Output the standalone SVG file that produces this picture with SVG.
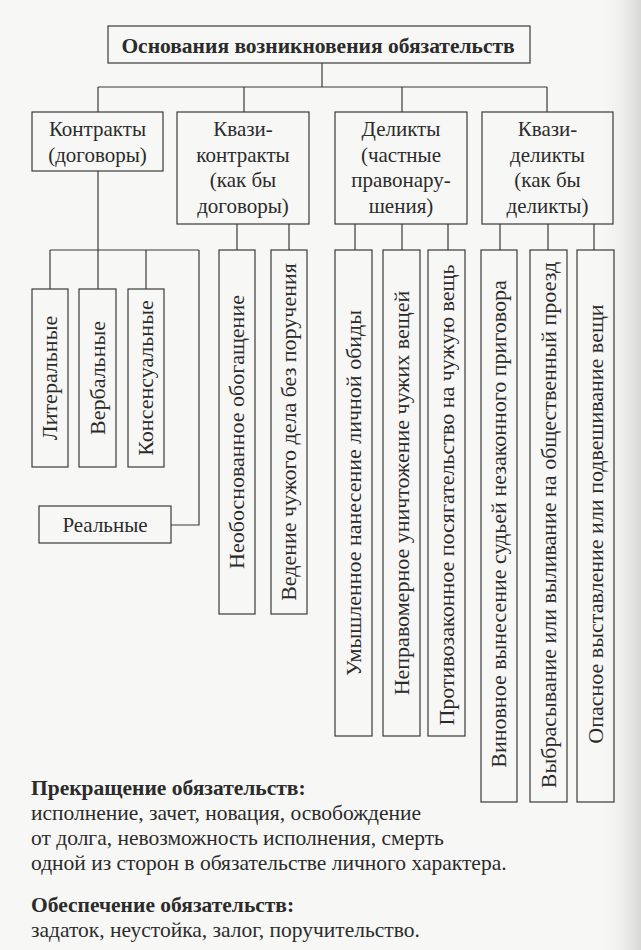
<svg xmlns="http://www.w3.org/2000/svg" width="641" height="950" viewBox="0 0 641 950">
<defs>
<linearGradient id="edge" x1="0" y1="0" x2="1" y2="0">
<stop offset="0" stop-color="#f4f4f2" stop-opacity="0"/>
<stop offset="1" stop-color="#d8d8d6"/>
</linearGradient>
<style>
.bx{fill:none;stroke:#3a3a3a;stroke-width:1.2}
.ln{fill:none;stroke:#3a3a3a;stroke-width:1.2}
.t,.v,.h,.p{font-family:'Liberation Serif','DejaVu Serif',serif;fill:#2b2b2b}
.t{font-size:21px;text-anchor:middle}
.v{font-size:22px;text-anchor:middle}
.h{font-size:21.5px;font-weight:bold}
.p{font-size:21.5px}
</style>
</defs>
<rect x="0" y="0" width="641" height="950" fill="#f7f7f5"/>
<rect x="600" y="0" width="41" height="950" fill="url(#edge)"/>

<g id="connectors" class="ln">
<path d="M322 63V87M98 87H547M98 87V112M244 87V112M402 87V112M547 87V112"/>
<path d="M98 171V250M50 250H199M50 250V289M98 250V289M146 250V289M199 250V525H171"/>
<path d="M237 224V250M289 224V250"/>
<path d="M355 224V250M402 224V250M448 224V250"/>
<path d="M500 224V250M548 224V250M594 224V250"/>
</g>

<g id="title">
<rect class="bx" x="108" y="26" width="422" height="37"/>
<text class="t" x="318" y="53" style="font-weight:bold;font-size:21.5px">Основания возникновения обязательств</text>
</g>

<g id="contracts">
<rect class="bx" x="32" y="112" width="131" height="59"/>
<text class="t" x="97.5" y="136">Контракты</text>
<text class="t" x="97.5" y="161.5">(договоры)</text>
</g>
<g id="quasi-contracts">
<rect class="bx" x="177" y="112" width="132" height="112"/>
<text class="t" x="243" y="136">Квази-</text>
<text class="t" x="243" y="161.5">контракты</text>
<text class="t" x="243" y="187">(как бы</text>
<text class="t" x="243" y="212.5">договоры)</text>
</g>
<g id="delicts">
<rect class="bx" x="335" y="112" width="132" height="112"/>
<text class="t" x="401" y="136">Деликты</text>
<text class="t" x="401" y="161.5">(частные</text>
<text class="t" x="401" y="187">правонару-</text>
<text class="t" x="401" y="212.5">шения)</text>
</g>
<g id="quasi-delicts">
<rect class="bx" x="482" y="112" width="131" height="112"/>
<text class="t" x="547.5" y="136">Квази-</text>
<text class="t" x="547.5" y="161.5">деликты</text>
<text class="t" x="547.5" y="187">(как бы</text>
<text class="t" x="547.5" y="212.5">деликты)</text>
</g>

<g id="literal">
<rect class="bx" x="32" y="289" width="36" height="178"/>
<text class="v" transform="translate(57 378) rotate(-90)">Литеральные</text>
</g>
<g id="verbal">
<rect class="bx" x="79" y="289" width="37" height="178"/>
<text class="v" transform="translate(104.5 378) rotate(-90)">Вербальные</text>
</g>
<g id="consensual">
<rect class="bx" x="128" y="289" width="36" height="178"/>
<text class="v" transform="translate(153 378) rotate(-90)">Консенсуальные</text>
</g>
<g id="real">
<rect class="bx" x="39" y="506" width="132" height="37"/>
<text class="t" x="105" y="532">Реальные</text>
</g>

<g id="unjust-enrichment">
<rect class="bx" x="219" y="250" width="36" height="364"/>
<text class="v" transform="translate(244 432) rotate(-90)">Необоснованное обогащение</text>
</g>
<g id="negotiorum">
<rect class="bx" x="271" y="250" width="36" height="364"/>
<text class="v" transform="translate(296 432) rotate(-90)">Ведение чужого дела без поручения</text>
</g>

<g id="injury">
<rect class="bx" x="335" y="250" width="37" height="486"/>
<text class="v" transform="translate(360.5 493) rotate(-90)">Умышленное нанесение личной обиды</text>
</g>
<g id="damage">
<rect class="bx" x="383" y="250" width="37" height="486"/>
<text class="v" transform="translate(408.5 493) rotate(-90)">Неправомерное уничтожение чужих вещей</text>
</g>
<g id="theft">
<rect class="bx" x="428" y="250" width="37" height="486"/>
<text class="v" transform="translate(453.5 495) rotate(-90)">Противозаконное посягательство на чужую вещь</text>
</g>

<g id="judge">
<rect class="bx" x="481" y="250" width="36" height="552"/>
<text class="v" transform="translate(506 524) rotate(-90)">Виновное вынесение судьей незаконного приговора</text>
</g>
<g id="effusum">
<rect class="bx" x="530" y="250" width="37" height="552"/>
<text class="v" transform="translate(555.5 525) rotate(-90)">Выбрасывание или выливание на общественный проезд</text>
</g>
<g id="suspensum">
<rect class="bx" x="577" y="250" width="37" height="552"/>
<text class="v" transform="translate(602.5 524) rotate(-90)">Опасное выставление или подвешивание вещи</text>
</g>

<g id="notes">
<text class="h" x="31" y="795">Прекращение обязательств:</text>
<text class="p" x="31" y="820">исполнение, зачет, новация, освобождение</text>
<text class="p" x="31" y="845">от долга, невозможность исполнения, смерть</text>
<text class="p" x="31" y="870">одной из сторон в обязательстве личного характера.</text>
<text class="h" x="31" y="912">Обеспечение обязательств:</text>
<text class="p" x="31" y="937">задаток, неустойка, залог, поручительство.</text>
</g>
</svg>
